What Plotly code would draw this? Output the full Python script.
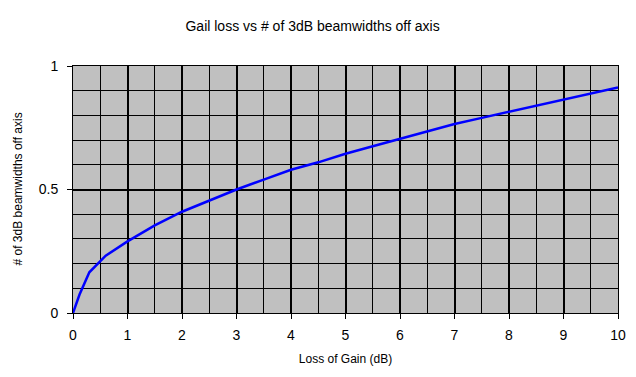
import plotly.graph_objects as go

loss_db = [0, 0.12, 0.3, 0.6, 1, 1.5, 2, 2.5, 3, 3.5, 4, 4.5, 5, 5.5, 6, 6.5, 7, 7.5, 8, 8.5, 9, 9.5, 10]
beamwidths = [0, 0.075, 0.165, 0.232, 0.29, 0.355, 0.41, 0.455, 0.5, 0.54, 0.58, 0.61, 0.645,
              0.675, 0.705, 0.735, 0.765, 0.79, 0.815, 0.84, 0.865, 0.89, 0.913]

title_text = "Gail loss vs # of 3dB beamwidths off axis"
x_title = "Loss of Gain (dB)"
y_title = "# of 3dB beamwidths off axis"

fig = go.Figure(go.Scatter(x=loss_db, y=beamwidths, mode="lines",
                           line=dict(color="#0000FF", width=2.5)))

font = "Liberation Sans, Arial, sans-serif"
fig.update_layout(
    width=628, height=369,
    margin=dict(l=65, r=18, t=58, b=64),
    paper_bgcolor="white", plot_bgcolor="#C0C0C0",
    showlegend=False,
    font=dict(family=font, size=14, color="black"),
    title=dict(text=title_text, x=0.485, xanchor="center", y=0.95, yanchor="middle",
               font=dict(family=font, size=14, color="black")),
    annotations=[dict(text=y_title, xref="paper", yref="paper", x=0, y=0.5,
                      xanchor="center", yanchor="middle", xshift=-56, textangle=-90,
                      showarrow=False, font=dict(family=font, size=12, color="black"))],
)
fig.update_xaxes(
    range=[0, 10], dtick=1, tick0=0,
    showgrid=True, gridcolor="black", gridwidth=2,
    minor=dict(dtick=0.5, showgrid=True, gridcolor="black", gridwidth=1, ticks=""),
    ticks="outside", ticklen=5, tickcolor="black",
    showline=True, linecolor="black", linewidth=1, mirror=True,
    zeroline=False, ticklabelstandoff=4, automargin=False,
    title=dict(text=x_title, font=dict(size=12), standoff=12),
    tickfont=dict(size=14),
)
fig.update_yaxes(
    range=[0, 1], dtick=0.5, tick0=0,
    showgrid=True, gridcolor="black", gridwidth=2,
    minor=dict(dtick=0.1, showgrid=True, gridcolor="black", gridwidth=1, ticks=""),
    ticks="outside", ticklen=5, tickcolor="black",
    showline=True, linecolor="black", linewidth=1, mirror=True,
    zeroline=False, ticklabelstandoff=6, automargin=False,
    tickfont=dict(size=14),
)
fig.write_html("out.html")
